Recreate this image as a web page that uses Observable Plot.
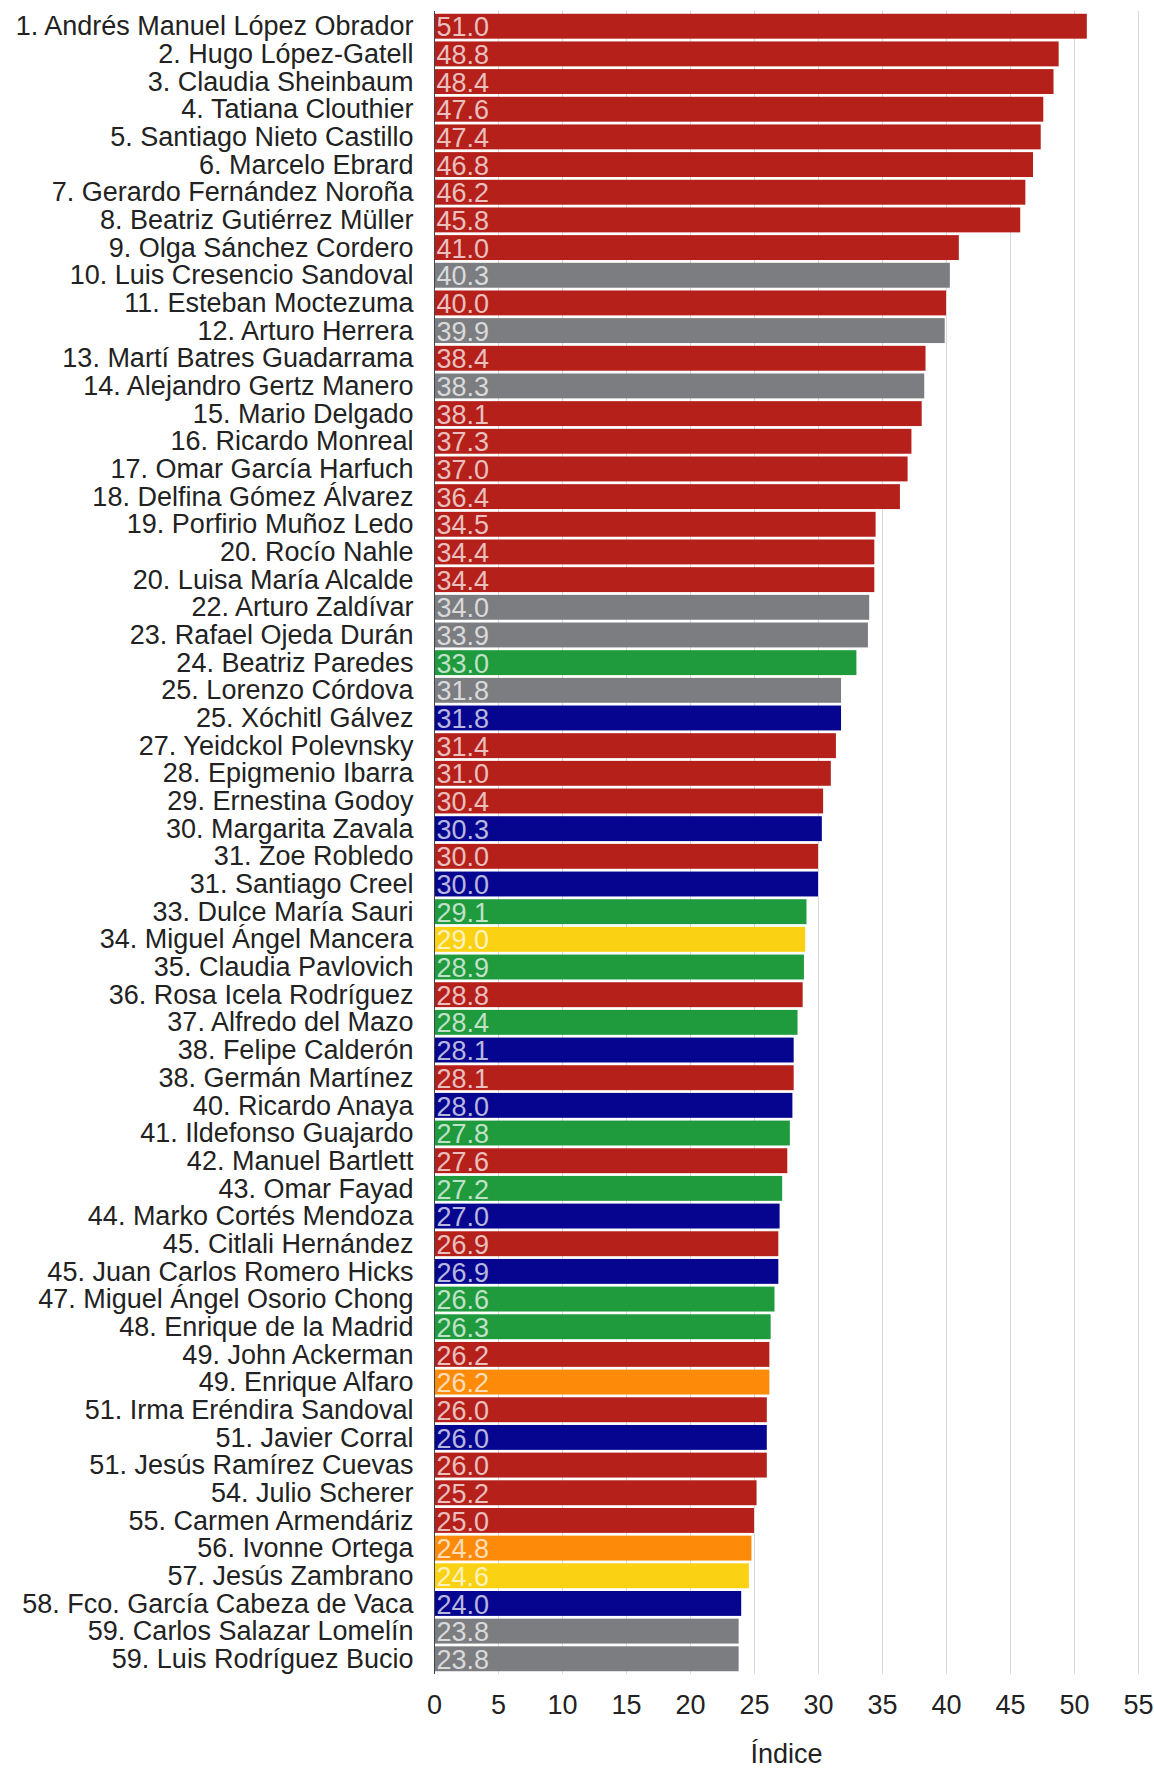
<!DOCTYPE html>
<html>
<head>
<meta charset="utf-8">
<script src="https://cdn.jsdelivr.net/npm/d3@7"></script>
<script src="https://cdn.jsdelivr.net/npm/@observablehq/plot@0.6"></script>
<style>
  html, body { margin: 0; padding: 0; background: #fff; }
  #chart svg { display: block; }
</style>
</head>
<body>
<div id="chart"></div>
<script>
const ranks = [1,2,3,4,5,6,7,8,9,10,11,12,13,14,15,16,17,18,19,20,20,22,23,24,25,25,27,28,29,30,31,31,33,34,35,36,37,38,38,40,41,42,43,44,45,45,47,48,49,49,51,51,51,54,55,56,57,58,59,59];
const names = [
  "Andrés Manuel López Obrador","Hugo López-Gatell","Claudia Sheinbaum","Tatiana Clouthier",
  "Santiago Nieto Castillo","Marcelo Ebrard","Gerardo Fernández Noroña","Beatriz Gutiérrez Müller",
  "Olga Sánchez Cordero","Luis Cresencio Sandoval","Esteban Moctezuma","Arturo Herrera",
  "Martí Batres Guadarrama","Alejandro Gertz Manero","Mario Delgado","Ricardo Monreal",
  "Omar García Harfuch","Delfina Gómez Álvarez","Porfirio Muñoz Ledo","Rocío Nahle",
  "Luisa María Alcalde","Arturo Zaldívar","Rafael Ojeda Durán","Beatriz Paredes",
  "Lorenzo Córdova","Xóchitl Gálvez","Yeidckol Polevnsky","Epigmenio Ibarra",
  "Ernestina Godoy","Margarita Zavala","Zoe Robledo","Santiago Creel",
  "Dulce María Sauri","Miguel Ángel Mancera","Claudia Pavlovich","Rosa Icela Rodríguez",
  "Alfredo del Mazo","Felipe Calderón","Germán Martínez","Ricardo Anaya",
  "Ildefonso Guajardo","Manuel Bartlett","Omar Fayad","Marko Cortés Mendoza",
  "Citlali Hernández","Juan Carlos Romero Hicks","Miguel Ángel Osorio Chong","Enrique de la Madrid",
  "John Ackerman","Enrique Alfaro","Irma Eréndira Sandoval","Javier Corral",
  "Jesús Ramírez Cuevas","Julio Scherer","Carmen Armendáriz","Ivonne Ortega",
  "Jesús Zambrano","Fco. García Cabeza de Vaca","Carlos Salazar Lomelín","Luis Rodríguez Bucio"
];
const values = [
  51.0,48.8,48.4,47.6,47.4,46.8,46.2,45.8,41.0,40.3,40.0,39.9,38.4,38.3,38.1,37.3,37.0,36.4,34.5,34.4,
  34.4,34.0,33.9,33.0,31.8,31.8,31.4,31.0,30.4,30.3,30.0,30.0,29.1,29.0,28.9,28.8,28.4,28.1,28.1,28.0,
  27.8,27.6,27.2,27.0,26.9,26.9,26.6,26.3,26.2,26.2,26.0,26.0,26.0,25.2,25.0,24.8,24.6,24.0,23.8,23.8
];
const partidos = [
  "MORENA","MORENA","MORENA","MORENA","MORENA","MORENA","MORENA","MORENA","MORENA","Ind",
  "MORENA","Ind","MORENA","Ind","MORENA","MORENA","MORENA","MORENA","MORENA","MORENA",
  "MORENA","Ind","Ind","PRI","Ind","PAN","MORENA","MORENA","MORENA","PAN",
  "MORENA","PAN","PRI","PRD","PRI","MORENA","PRI","PAN","MORENA","PAN",
  "PRI","MORENA","PRI","PAN","MORENA","PAN","PRI","PRI","MORENA","MC",
  "MORENA","PAN","MORENA","MORENA","MORENA","MC","PRD","PAN","Ind","Ind"
];
const partyDomain = ["MORENA","Ind","PRI","PAN","PRD","MC"];
const partyColors = ["#b5201b","#7b7d80","#1f9a3d","#05058f","#fbd213","#fd8a08"];
const xTicks = [0,5,10,15,20,25,30,35,40,45,50,55];

const data = names.map((n, i) => ({
  label: `${ranks[i]}. ${n}`,
  value: values[i],
  partido: partidos[i]
}));

const chart = Plot.plot({
  width: 1154,
  height: 1769,
  marginLeft: 434,
  marginRight: 16,
  marginTop: 11,
  marginBottom: 95,
  style: {fontSize: "27px", fontFamily: "'Liberation Sans', Arial, Helvetica, sans-serif", color: "#222", background: "#fff"},
  x: {domain: [0, 55]},
  y: {domain: data.map(d => d.label), padding: 0.1, align: 0.5},
  color: {domain: partyDomain, range: partyColors},
  marks: [
    Plot.gridX(xTicks.slice(1), {stroke: "#d9d9d9", strokeOpacity: 1, strokeWidth: 1}),
    Plot.barX(data, {y: "label", x: "value", fill: "partido"}),
    Plot.ruleX([0], {stroke: "#444", strokeWidth: 1}),
    Plot.text(data, {y: "label", x: 0, text: d => d.value.toFixed(1), textAnchor: "start", dx: 2, dy: 1, fill: "white", fillOpacity: 0.72, fontSize: 27}),
    Plot.axisY({tickSize: 0, tickPadding: 21, label: null, fontSize: 27}),
    Plot.axisX({ticks: xTicks, tickSize: 0, tickPadding: 20, label: "Índice", labelAnchor: "center", labelArrow: "none", labelOffset: 88, fontSize: 27})
  ]
});
document.getElementById("chart").appendChild(chart);
</script>
</body>
</html>
